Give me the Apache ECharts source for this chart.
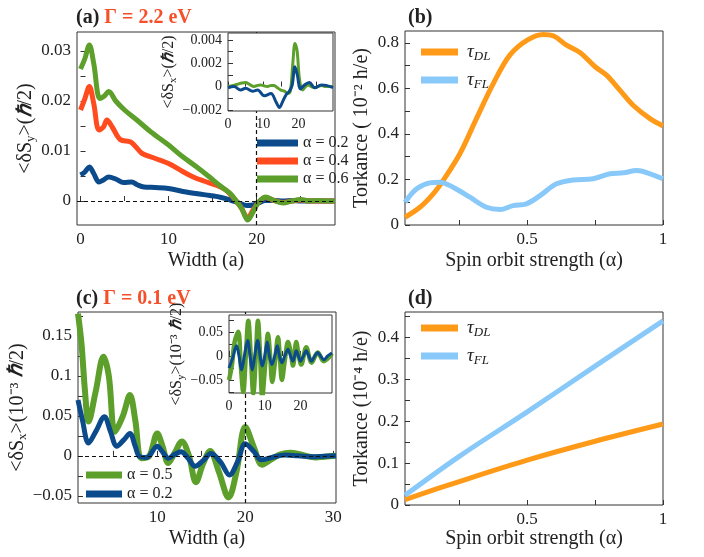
<!DOCTYPE html>
<html>
<head>
<meta charset="utf-8">
<script src="https://cdn.jsdelivr.net/npm/echarts@6.0.0/dist/echarts.min.js"></script>
</head>
<body style="margin:0;background:#fff">
<div id="container" style="width:704px;height:557px"></div>
<script>
// panel (a): <dSy> vs width, Gamma = 2.2 eV
var xA02 = [0, 0.5, 1, 1.5, 2.1, 2.6, 3.2, 4, 4.9, 5.8, 6.5, 7.2, 8.5, 10, 12, 13.5, 14.7, 16, 17, 18, 18.9, 19.6, 20.2, 21, 22, 23, 24, 25, 26, 27, 28, 28.9];
var yA02 = [0.0052, 0.0058, 0.0068, 0.0055, 0.0038, 0.0042, 0.0048, 0.0044, 0.0037, 0.0038, 0.0032, 0.0028, 0.0027, 0.0025, 0.0018, 0.0014, 0.0011, 0.0007, 0.0002, -0.0004, -0.0009, -0.0008, -0.0004, 0.0001, 0.0001, 0, 0.0001, 0, 0, 0, 0, 0];
var xA04 = [0, 0.5, 1, 1.5, 2.1, 2.6, 3.0, 3.6, 4.5, 5.7, 6.3, 7, 8.5, 10, 11.5, 12.8, 14, 15.5, 16.5, 17.3, 18.2, 19, 19.6, 20.2, 21, 22, 23, 24, 25, 26, 27, 28, 28.9];
var yA04 = [0.0182, 0.0205, 0.0229, 0.0195, 0.0142, 0.0148, 0.0162, 0.0148, 0.0123, 0.0118, 0.0108, 0.0095, 0.0085, 0.0075, 0.0060, 0.0048, 0.0040, 0.0031, 0.0022, 0.0008, -0.0012, -0.0033, -0.0018, -0.0003, 0.0007, 0.0001, -0.0003, 0, 0.0002, 0, 0, 0, 0];
var xA06 = [0, 0.5, 1, 1.5, 2.2, 2.7, 3.2, 4, 5, 6.4, 8, 10, 11.5, 13.2, 14.5, 15.8, 17, 17.6, 18.3, 19, 19.6, 20.2, 21, 22, 23, 24, 25, 26, 27, 28, 28.9];
var yA06 = [0.0264, 0.0285, 0.0312, 0.0275, 0.0205, 0.0210, 0.0219, 0.0200, 0.0182, 0.0162, 0.0138, 0.0112, 0.0090, 0.0068, 0.0050, 0.0031, 0.0015, 0.0002, -0.0015, -0.0038, -0.0022, -0.0003, 0.0008, 0.0001, -0.0004, 0, 0.0003, 0, 0.0001, 0, 0];
// inset (a): <dSx>
var xIa06 = [0, 1.5, 2.7, 4, 5, 6, 7.4, 8.4, 9.3, 10.3, 11.2, 12.2, 13.1, 14, 15, 16, 17, 17.7, 18.4, 19, 19.6, 20.3, 21.2, 22, 22.7, 23.6, 24.6, 25.5, 26.5, 27.5, 28.5, 29.8];
var yIa06 = [0, 0.0001, 0.0002, 0.0003, 0.00034, 0.0002, 0, 0.0001, 0.00014, 0.00005, 0, 0.0001, 0.0001, -0.0001, -0.0003, -0.0004, -0.0006, -0.0004, 0.0020, 0.0037, 0.0031, 0.0006, -0.0003, 0, 0.00014, 0, -0.0001, 0, 0.0001, 0, 0, 0];
var xIa02 = [0, 1.7, 3.6, 5, 7, 8.4, 10.3, 12.2, 13.6, 14.6, 15.5, 16.5, 17.4, 18.2, 19, 19.6, 20.6, 21.7, 23.1, 24.6, 26.5, 27.9, 29.8];
var yIa02 = [-0.0001, 0, -0.0003, -0.00014, -0.0004, -0.0003, -0.0008, -0.0006, -0.0013, -0.0018, -0.0013, -0.0007, -0.0004, 0.0001, 0.0017, 0.0011, -0.0002, 0.00014, 0.00034, -0.0001, 0.00014, 0.0001, -0.0001];

// panel (b): torkance, Gamma = 2.2 eV
var xB = [0.05, 0.105, 0.154, 0.19, 0.252, 0.313, 0.375, 0.436, 0.5, 0.559, 0.596, 0.645, 0.694, 0.75, 0.792, 0.841, 0.89, 0.952, 1.0];
var bDL = [0.034, 0.078, 0.137, 0.195, 0.313, 0.467, 0.621, 0.746, 0.812, 0.837, 0.831, 0.790, 0.758, 0.695, 0.658, 0.592, 0.526, 0.467, 0.435];
var xBF = [0.05, 0.093, 0.141, 0.178, 0.227, 0.289, 0.35, 0.4, 0.448, 0.497, 0.547, 0.608, 0.67, 0.743, 0.805, 0.854, 0.903, 0.952, 1.0];
var bFL = [0.1, 0.159, 0.185, 0.188, 0.166, 0.122, 0.078, 0.068, 0.085, 0.093, 0.129, 0.181, 0.198, 0.203, 0.225, 0.229, 0.239, 0.225, 0.203];

// panel (c): <dSx> vs width, Gamma = 0.1 eV
var xC05 = [1, 1.4, 1.8, 2.2, 3, 3.9, 4.5, 5.2, 6.1, 6.9, 7.5, 8.2, 9.1, 10.0, 10.6, 11.25, 12.0, 12.8, 13.6, 14.4, 15.2, 16.0, 17.0, 18.1, 19.0, 20.0, 21.0, 21.9, 23, 24, 25.1, 26.5, 28, 29, 30.3];
var yC05 = [0.178, 0.140, 0.080, 0.043, 0.080, 0.124, 0.100, 0.030, 0.050, 0.076, 0.045, -0.003, 0.000, 0.028, 0.012, -0.009, 0.004, 0.018, 0.000, -0.033, -0.010, 0.006, -0.020, -0.052, -0.020, 0.036, 0.010, -0.011, -0.004, 0.002, 0.004, 0.001, -0.002, -0.001, 0.000];
var xC02 = [1, 1.5, 2.2, 3, 4.0, 4.7, 5.4, 6.2, 6.9, 7.5, 8.0, 8.8, 10.0, 10.6, 11.25, 12.0, 12.7, 13.5, 14.3, 15.2, 16.1, 17.2, 18.2, 19.1, 20.0, 21.0, 21.8, 23, 24.5, 26, 28, 30.3];
var yC02 = [0.070, 0.045, 0.016, 0.030, 0.049, 0.030, 0.012, 0.020, 0.028, 0.012, -0.001, -0.002, 0.012, 0.005, -0.003, 0.002, 0.005, -0.003, -0.013, -0.006, 0.003, -0.008, -0.024, -0.008, 0.015, 0.005, -0.005, -0.002, 0.001, 0, -0.001, 0];
// inset (c): <dSy>
var xIc05 = [0, 0.8, 1.6, 2.6, 3.3, 4.0, 4.7, 5.4, 6.1, 6.8, 7.5, 8.1, 8.7, 9.3, 10.1, 10.9, 11.5, 12.1, 12.9, 13.7, 14.2, 14.8, 15.6, 16.5, 17.2, 17.9, 18.8, 19.5, 20.2, 21.6, 23.1, 24.8, 26.5, 28.8];
var yIc05 = [-0.05, -0.02, 0.03, 0.05, -0.02, -0.075, 0.0, 0.073, 0.0, -0.078, 0.0, 0.073, 0.0, -0.085, -0.02, 0.046, 0.0, -0.054, -0.01, 0.039, 0.0, -0.05, -0.01, 0.029, 0.01, -0.02, 0.029, 0.0, -0.018, 0.018, -0.014, 0.007, -0.011, 0.005];
var xIc02 = [0, 1.0, 2.1, 2.8, 3.5, 4.3, 5.2, 5.9, 6.5, 7.2, 8.0, 8.7, 9.3, 10.0, 10.7, 11.3, 12.0, 12.8, 13.5, 14.1, 14.8, 15.6, 16.5, 17.2, 17.9, 18.8, 19.4, 20.0, 20.8, 21.6, 22.3, 23.1, 24.0, 24.8, 25.6, 26.5, 27.6, 28.8];
var yIc02 = [-0.025, -0.005, 0.021, 0, -0.029, 0, 0.032, 0, -0.029, 0, 0.032, 0, -0.021, 0, 0.029, 0, -0.018, 0, 0.021, 0, -0.014, 0, 0.014, 0, -0.011, 0.011, 0, -0.011, 0, 0.011, 0, -0.011, 0, 0.007, 0, -0.008, 0, 0.006];

// panel (d): torkance, Gamma = 0.1 eV
var xD = [0.05, 0.25, 0.5, 0.75, 1.0];
var dDL = [0.013, 0.056, 0.107, 0.152, 0.193];
var dFL = [0.023, 0.116, 0.222, 0.331, 0.439];

// tick marks and labels
var tickW = [0, 5, 10, 15, 20, 25];
var labW = [0, 10, 20];
var tickWc = [5, 10, 15, 20, 25, 30];
var labWc = [10, 20, 30];
var tickA = [-0.005, 0, 0.005, 0.01, 0.015, 0.02, 0.025, 0.03];
var labA = [0, 0.01, 0.02, 0.03];
var tickIa = [-0.002, -0.001, 0, 0.001, 0.002, 0.003, 0.004];
var labIa = [-0.002, 0, 0.002, 0.004];
var tickAl = [0.25, 0.5, 0.75, 1];
var labAl = [0.5, 1];
var tickB = [0, 0.1, 0.2, 0.3, 0.4, 0.5, 0.6, 0.7, 0.8];
var labB = [0, 0.2, 0.4, 0.6, 0.8];
var tickC = [-0.05, -0.025, 0, 0.025, 0.05, 0.075, 0.1, 0.125, 0.15, 0.175];
var labC = [-0.05, 0, 0.05, 0.1, 0.15];
var tickIc = [-0.075, -0.05, -0.025, 0, 0.025, 0.05, 0.075];
var labIc = [-0.05, 0, 0.05];
var tickD = [0, 0.05, 0.1, 0.15, 0.2, 0.25, 0.3, 0.35, 0.4, 0.45];
var labD = [0, 0.1, 0.2, 0.3, 0.4];

var F = 'Liberation Serif';
var BLUE = '#0b4a8b', RED = '#ff4b1e', GREEN = '#5c9f2b', ORANGE = '#ff9a18', SKY = '#88c9f9';

function pairs(xs, ys) {
    return xs.map(function (x, i) { return [x, ys[i]]; });
}
function fmt(v) {
    return String(v).replace('-', '\u2212');
}
var subRich = {
    s: { fontFamily: F, fontSize: 13, color: '#222', lineHeight: 13, padding: [10, 0, 0, 0] },
    h: { fontFamily: F, fontSize: 20, color: '#222', fontStyle: 'italic', fontWeight: 'bold' },
    sm: { fontFamily: F, fontSize: 16, color: '#222', lineHeight: 16 },
    ss: { fontFamily: F, fontSize: 11, color: '#222', lineHeight: 11, padding: [8, 0, 0, 0] },
    hs: { fontFamily: F, fontSize: 16, color: '#222', fontStyle: 'italic', fontWeight: 'bold', lineHeight: 16 }
};

function axis(kind, grid, min, max, ticks, labels, fs, name, gap, z) {
    return {
        type: 'value', gridIndex: grid, min: min, max: max, z: z || 0,
        axisLine: { show: false },
        splitLine: { show: false },
        axisTick: { inside: true, length: 5, customValues: ticks, lineStyle: { color: '#333', width: 1 } },
        axisLabel: { customValues: labels, fontFamily: F, fontSize: fs, color: '#222', margin: 6, formatter: fmt, showMaxLabel: true, showMinLabel: true },
        name: name, nameLocation: 'middle', nameGap: gap,
        nameTextStyle: { fontFamily: F, fontSize: fs > 14 ? 20 : 16, color: '#222', rich: subRich }
    };
}
function line(name, xi, yi, data, color, width, z) {
    return {
        name: name, type: 'line', xAxisIndex: xi, yAxisIndex: yi, data: data,
        showSymbol: false, symbol: 'none', smooth: 0.35, z: z || 2,
        lineStyle: { color: color, width: width }, itemStyle: { color: color }
    };
}
function dashed(list) {
    return {
        silent: true, symbol: ['none', 'none'], label: { show: false },
        lineStyle: { type: [4, 3], color: '#111', width: 1.2 },
        data: list
    };
}

var myChart = echarts.init(document.getElementById('container'));

var sA06 = line('α = 0.6', 0, 0, pairs(xA06, yA06), GREEN, 5);
sA06.markLine = dashed([{ yAxis: 0 }, { xAxis: 20 }]);
var sIa02 = line('ia02', 1, 1, pairs(xIa02, yIa02), BLUE, 3, 12);
sIa02.markLine = dashed([{ xAxis: 20 }]);
var sC02 = line('α = 0.2', 3, 3, pairs(xC02, yC02), BLUE, 5);
sC02.markLine = dashed([{ yAxis: 0 }, { xAxis: 20 }]);
var sIc02 = line('ic02', 4, 4, pairs(xIc02, yIc02), BLUE, 3, 12);
sIc02.markLine = dashed([{ xAxis: 20 }]);

var titleRich = {
    k: { fontFamily: F, fontSize: 20, fontWeight: 'bold', color: '#222' },
    r: { fontFamily: F, fontSize: 20, fontWeight: 'bold', color: '#f5502a' }
};
var tauRich = {
    t: { fontFamily: F, fontSize: 19, fontStyle: 'italic', color: '#222', padding: [0, 0, 0, 4] },
    s: { fontFamily: F, fontSize: 13, fontStyle: 'italic', color: '#222', lineHeight: 13, padding: [9, 0, 0, 0] }
};
function tauFmt(name) {
    return '{t|τ}{s|' + name.replace('τ', '') + '}';
}
var torkName = 'Torkance ( 10⁻² h/e)';

var option = {
    animation: false,
    backgroundColor: '#fff',
    title: [
        { left: 71, top: 3, text: '{k|(a) }{r|Γ = 2.2 eV}', textStyle: { rich: titleRich } },
        { left: 403, top: 3, text: '{k|(b)}', textStyle: { rich: titleRich } },
        { left: 71, top: 284, text: '{k|(c) }{r|Γ = 0.1 eV}', textStyle: { rich: titleRich } },
        { left: 403, top: 284, text: '{k|(d)}', textStyle: { rich: titleRich } }
    ],
    legend: [
        {
            data: ['α = 0.2', 'α = 0.4', 'α = 0.6'], orient: 'vertical', left: 252, top: 130,
            icon: 'rect', itemWidth: 41, itemHeight: 7, itemGap: 2,
            textStyle: { fontFamily: F, fontSize: 16, color: '#222' }
        },
        {
            data: ['α = 0.5', 'α = 0.2'], orient: 'vertical', left: 81, top: 462,
            icon: 'rect', itemWidth: 36, itemHeight: 7, itemGap: 3,
            textStyle: { fontFamily: F, fontSize: 16, color: '#222' }
        },
        {
            data: ['τDL', 'τFL'], orient: 'vertical', left: 416, top: 36,
            icon: 'rect', itemWidth: 37, itemHeight: 7, itemGap: 6, formatter: tauFmt,
            textStyle: { fontFamily: F, fontSize: 19, color: '#222', rich: tauRich }
        },
        {
            data: ['τDL', 'τFL'], orient: 'vertical', left: 416, top: 312,
            icon: 'rect', itemWidth: 37, itemHeight: 7, itemGap: 6, formatter: tauFmt,
            textStyle: { fontFamily: F, fontSize: 19, color: '#222', rich: tauRich }
        }
    ],
    grid: [
        { left: 77, top: 32, width: 258, height: 193, show: true, borderColor: '#333', borderWidth: 1 },
        { left: 228, top: 33, width: 105, height: 78, show: true, borderColor: '#333', borderWidth: 1, backgroundColor: '#fff', z: 10 },
        { left: 405, top: 31, width: 258, height: 194, show: true, borderColor: '#333', borderWidth: 1 },
        { left: 78, top: 312, width: 258, height: 191, show: true, borderColor: '#333', borderWidth: 1 },
        { left: 229, top: 315, width: 103, height: 78, show: true, borderColor: '#333', borderWidth: 1, backgroundColor: '#fff', z: 10 },
        { left: 405, top: 312, width: 258, height: 193, show: true, borderColor: '#333', borderWidth: 1 }
    ],
    xAxis: [
        axis('x', 0, -0.4, 28.9, tickW, labW, 17, 'Width (a)', 26),
        axis('x', 1, 0, 29.8, tickW, labW, 14, '', 0, 11),
        axis('x', 2, 0.05, 1, tickAl, labAl, 17, 'Spin orbit strength (α)', 26),
        axis('x', 3, 1, 30.3, tickWc, labWc, 17, 'Width (a)', 26),
        axis('x', 4, 0, 28.8, tickW, labW, 14, '', 0, 11),
        axis('x', 5, 0.05, 1, tickAl, labAl, 17, 'Spin orbit strength (α)', 24)
    ],
    yAxis: [
        axis('y', 0, -0.0048, 0.0338, tickA, labA, 17, '<δS{s|y}>({h|ℏ}/2)', 38),
        axis('y', 1, -0.0021, 0.0046, tickIa, labIa, 14, '{sm|<δS}{ss|x}{sm|>(}{hs|ℏ}{sm|/2)}', 40, 11),
        axis('y', 2, 0, 0.852, tickB, labB, 17, torkName, 33),
        axis('y', 3, -0.059, 0.180, tickC, labC, 17, '<δS{s|x}>(10⁻³ {h|ℏ}/2)', 38),
        axis('y', 4, -0.077, 0.085, tickIc, labIc, 14, '{sm|<δS}{ss|y}{sm|>(10⁻³ }{hs|ℏ}{sm|/2)}', 36, 11),
        axis('y', 5, 0, 0.46, tickD, labD, 17, 'Torkance (10⁻⁴ h/e)', 33)
    ],
    series: [
        line('α = 0.2', 0, 0, pairs(xA02, yA02), BLUE, 5),
        line('α = 0.4', 0, 0, pairs(xA04, yA04), RED, 5),
        sA06,
        line('ia06', 1, 1, pairs(xIa06, yIa06), GREEN, 3, 12),
        sIa02,
        line('τDL', 2, 2, pairs(xB, bDL), ORANGE, 5),
        line('τFL', 2, 2, pairs(xBF, bFL), SKY, 5),
        line('α = 0.5', 3, 3, pairs(xC05, yC05), GREEN, 6),
        sC02,
        line('ic05', 4, 4, pairs(xIc05, yIc05), GREEN, 4.5, 12),
        sIc02,
        line('τDL', 5, 5, pairs(xD, dDL), ORANGE, 5),
        line('τFL', 5, 5, pairs(xD, dFL), SKY, 5)
    ]
};
myChart.setOption(option);
</script>
</body>
</html>
